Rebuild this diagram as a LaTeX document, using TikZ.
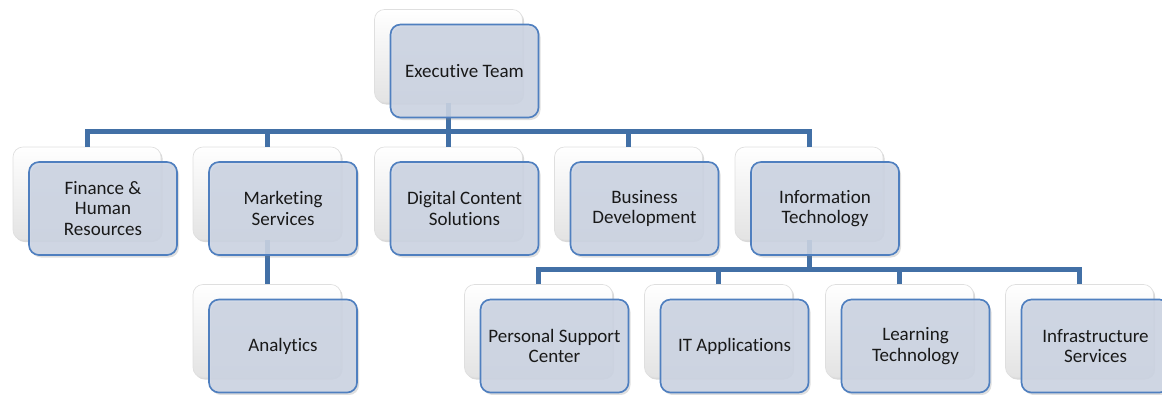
\documentclass[tikz,border=0pt]{standalone}
\usepackage{fontspec}
\setmainfont{Carlito}[Ligatures={NoCommon}]
\usetikzlibrary{positioning, calc, shadows}

\definecolor{busblue}{HTML}{4270A6}
\definecolor{boxblue}{HTML}{CDD5E4}
\definecolor{edgeblue}{HTML}{4F7FBF}

\tikzset{
  backbox/.style={draw=gray!25, rounded corners=6pt, top color=white, bottom color=gray!22,
    minimum width=88.8pt, minimum height=55.8pt,
    drop shadow={shadow xshift=1pt, shadow yshift=-1.2pt, opacity=0.3}},
  frontbox/.style={draw=edgeblue, line width=1pt, rounded corners=6pt, fill=boxblue, fill opacity=0.88,
    text opacity=1, minimum width=88.8pt, minimum height=55.8pt, align=center,
    font=\fontsize{11.4}{12.3}\selectfont, text=black!90,
    drop shadow={shadow xshift=1.2pt, shadow yshift=-1.5pt, opacity=0.25}},
  bus/.style={draw=busblue, line width=3pt},
}

\begin{document}
\begin{tikzpicture}[x=0.6pt, y=-0.6pt]
  \useasboundingbox (0,0) rectangle (1162,394);

  % back plates
  \node[backbox] (exec-b) at (448.5,56) {};
  \node[backbox] (fin-b)  at (87,193.5) {};
  \node[backbox] (mkt-b)  at (267,193.5) {};
  \node[backbox] (dcs-b)  at (448.5,193.5) {};
  \node[backbox] (bd-b)   at (628.5,193.5) {};
  \node[backbox] (it-b)   at (809,193.5) {};
  \node[backbox] (ana-b)  at (267,331) {};
  \node[backbox] (psc-b)  at (538.5,331) {};
  \node[backbox] (ita-b)  at (718.5,331) {};
  \node[backbox] (lt-b)   at (899.5,331) {};
  \node[backbox] (inf-b)  at (1079.5,331) {};

  % bus lines
  \coordinate (bus1) at (448.5,131);
  \coordinate (bus2) at (809,269);
  \draw[bus] (fin-b.north) |- (bus1) -| (it-b.north);
  \draw[bus] (exec-b.south) -- (bus1);
  \draw[bus] (mkt-b.north) -- (mkt-b.north |- bus1);
  \draw[bus] (dcs-b.north) -- (dcs-b.north |- bus1);
  \draw[bus] (bd-b.north) -- (bd-b.north |- bus1);
  \draw[bus] (mkt-b.south) -- (ana-b.north);
  \draw[bus] (psc-b.north) |- (bus2) -| (inf-b.north);
  \draw[bus] (it-b.south) -- (bus2);
  \draw[bus] (ita-b.north) -- (ita-b.north |- bus2);
  \draw[bus] (lt-b.north) -- (lt-b.north |- bus2);

  % front boxes
  \node[frontbox] (exec) at ([shift={(16,15)}]exec-b.center) {Executive Team};
  \node[frontbox] (fin)  at ([shift={(16,15)}]fin-b.center) {Finance \&\\Human\\Resources};
  \node[frontbox] (mkt)  at ([shift={(16,15)}]mkt-b.center) {Marketing\\Services};
  \node[frontbox] (dcs)  at ([shift={(16,15)}]dcs-b.center) {Digital Content\\Solutions};
  \node[frontbox] (bd)   at ([shift={(16,15)}]bd-b.center) {Business\\Development};
  \node[frontbox] (it)   at ([shift={(16,15)}]it-b.center) {Information\\Technology};
  \node[frontbox] (ana)  at ([shift={(16,15)}]ana-b.center) {Analytics};
  \node[frontbox] (psc)  at ([shift={(16,15)}]psc-b.center) {Personal Support\\Center};
  \node[frontbox] (ita)  at ([shift={(16,15)}]ita-b.center) {IT Applications};
  \node[frontbox] (lt)   at ([shift={(16,15)}]lt-b.center) {Learning\\Technology};
  \node[frontbox] (inf)  at ([shift={(16,15)}]inf-b.center) {Infrastructure\\Services};
\end{tikzpicture}
\end{document}
